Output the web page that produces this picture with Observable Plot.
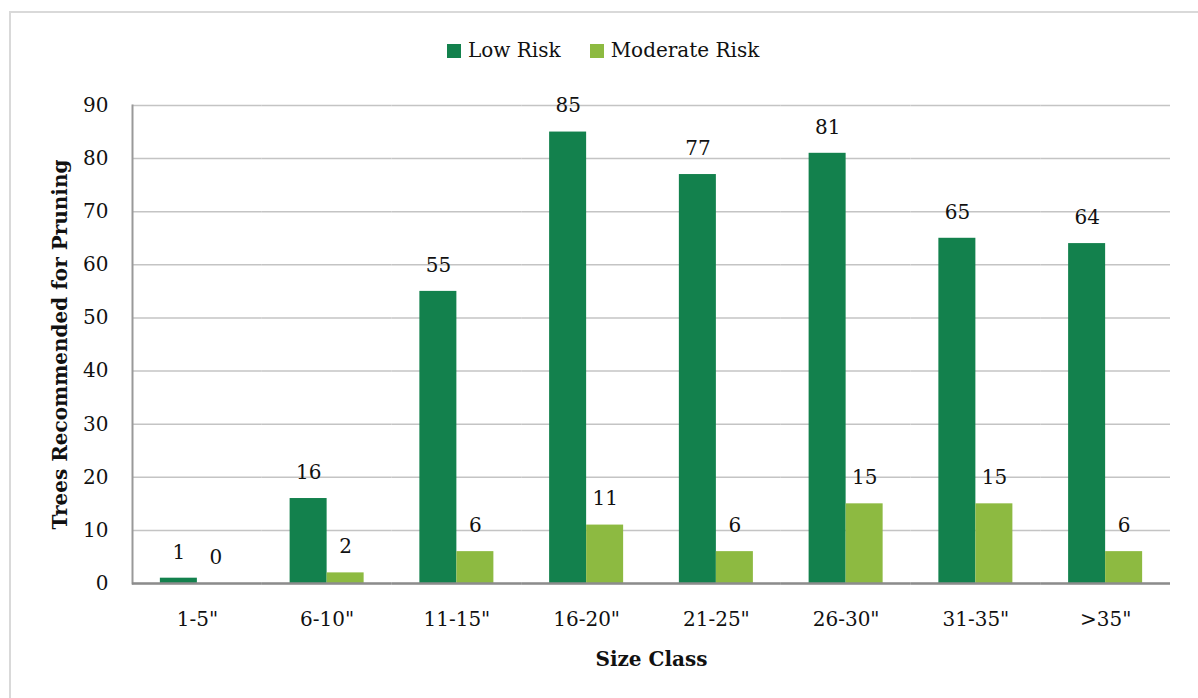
<!DOCTYPE html>
<html>
<head>
<meta charset="utf-8">
<script src="https://cdn.jsdelivr.net/npm/d3@7"></script>
<script src="https://cdn.jsdelivr.net/npm/@observablehq/plot@0.6"></script>
<style>
  body { margin: 0; background: #fff; font-family: "DejaVu Serif", serif; color: #111; }
  #wrap { position: relative; width: 1198px; height: 698px; overflow: hidden; }
  #border { position: absolute; left: 9px; top: 11px; width: 1300px; height: 800px;
            border-left: 2px solid #d9d9d9; border-top: 2px solid #d9d9d9; pointer-events: none; }
  #legend { position: relative; height: 85px; }
  #legend .items { position: absolute; left: 447px; top: 38px; display: flex; align-items: center; font-size: 20px; }
  #legend .item { display: flex; align-items: center; margin-right: 29px; }
  #legend .sw { width: 14px; height: 14px; margin-right: 7px; margin-top: 2px; }
  #chart svg [aria-label="y-axis label"], #chart svg [aria-label="fx-axis label"] { font-weight: bold; }
</style>
</head>
<body>
<div id="wrap">
  <div id="border"></div>
  <div id="legend"><div class="items"></div></div>
  <div id="chart"></div>
</div>
<script>
// Trees recommended for pruning, by trunk size class and risk level
const sizeClasses = ["1-5\"", "6-10\"", "11-15\"", "16-20\"", "21-25\"", "26-30\"", "31-35\"", ">35\""];
const lowRisk = [1, 16, 55, 85, 77, 81, 65, 64];
const moderateRisk = [0, 2, 6, 11, 6, 15, 15, 6];
const riskLevels = ["Low Risk", "Moderate Risk"];
const riskColors = ["#13814d", "#8dba41"];
const yTicks = [0, 10, 20, 30, 40, 50, 60, 70, 80, 90];

const rows = sizeClasses.flatMap((size, i) => [
  {size, risk: riskLevels[0], trees: lowRisk[i]},
  {size, risk: riskLevels[1], trees: moderateRisk[i]}
]);

// legend
const items = document.querySelector("#legend .items");
riskLevels.forEach((name, i) => {
  const item = document.createElement("div");
  item.className = "item";
  const sw = document.createElement("span");
  sw.className = "sw";
  sw.style.background = riskColors[i];
  const label = document.createElement("span");
  label.textContent = name;
  item.append(sw, label);
  items.append(item);
});

const chart = Plot.plot({
  width: 1198,
  height: 613,
  marginTop: 20,
  marginBottom: 115,
  marginLeft: 132,
  marginRight: 28,
  style: {fontFamily: "DejaVu Serif", fontSize: "20px", color: "#111", background: "transparent"},
  fx: {domain: sizeClasses, padding: 0, round: false},
  x: {domain: riskLevels, paddingInner: 0, paddingOuter: 0.753, round: false, axis: null},
  y: {domain: [0, 90]},
  color: {domain: riskLevels, range: riskColors},
  marks: [
    Plot.gridY(yTicks, {stroke: "#c4c4c4", strokeOpacity: 1, strokeWidth: 1.5}),
    Plot.barY(rows, {fx: "size", x: "risk", y: "trees", fill: "risk"}),
    Plot.frame({anchor: "left", facetAnchor: "left", stroke: "#999", strokeWidth: 2}),
    Plot.ruleY([0], {stroke: "#8c8c8c", strokeWidth: 2.5}),
    Plot.text(rows, {fx: "size", x: "risk", y: "trees", text: "trees", dy: -26, fontSize: 20, fill: "#111"}),
    Plot.axisY(yTicks, {tickSize: 0, tickPadding: 24, fontSize: 20,
      label: "Trees Recommended for Pruning", labelArrow: "none", labelAnchor: "center", labelOffset: 80}),
    Plot.axisFx({anchor: "bottom", tickSize: 0, tickPadding: 28, fontSize: 20,
      label: "Size Class", labelAnchor: "center", labelOffset: 82})
  ]
});
document.getElementById("chart").append(chart);
</script>
</body>
</html>
